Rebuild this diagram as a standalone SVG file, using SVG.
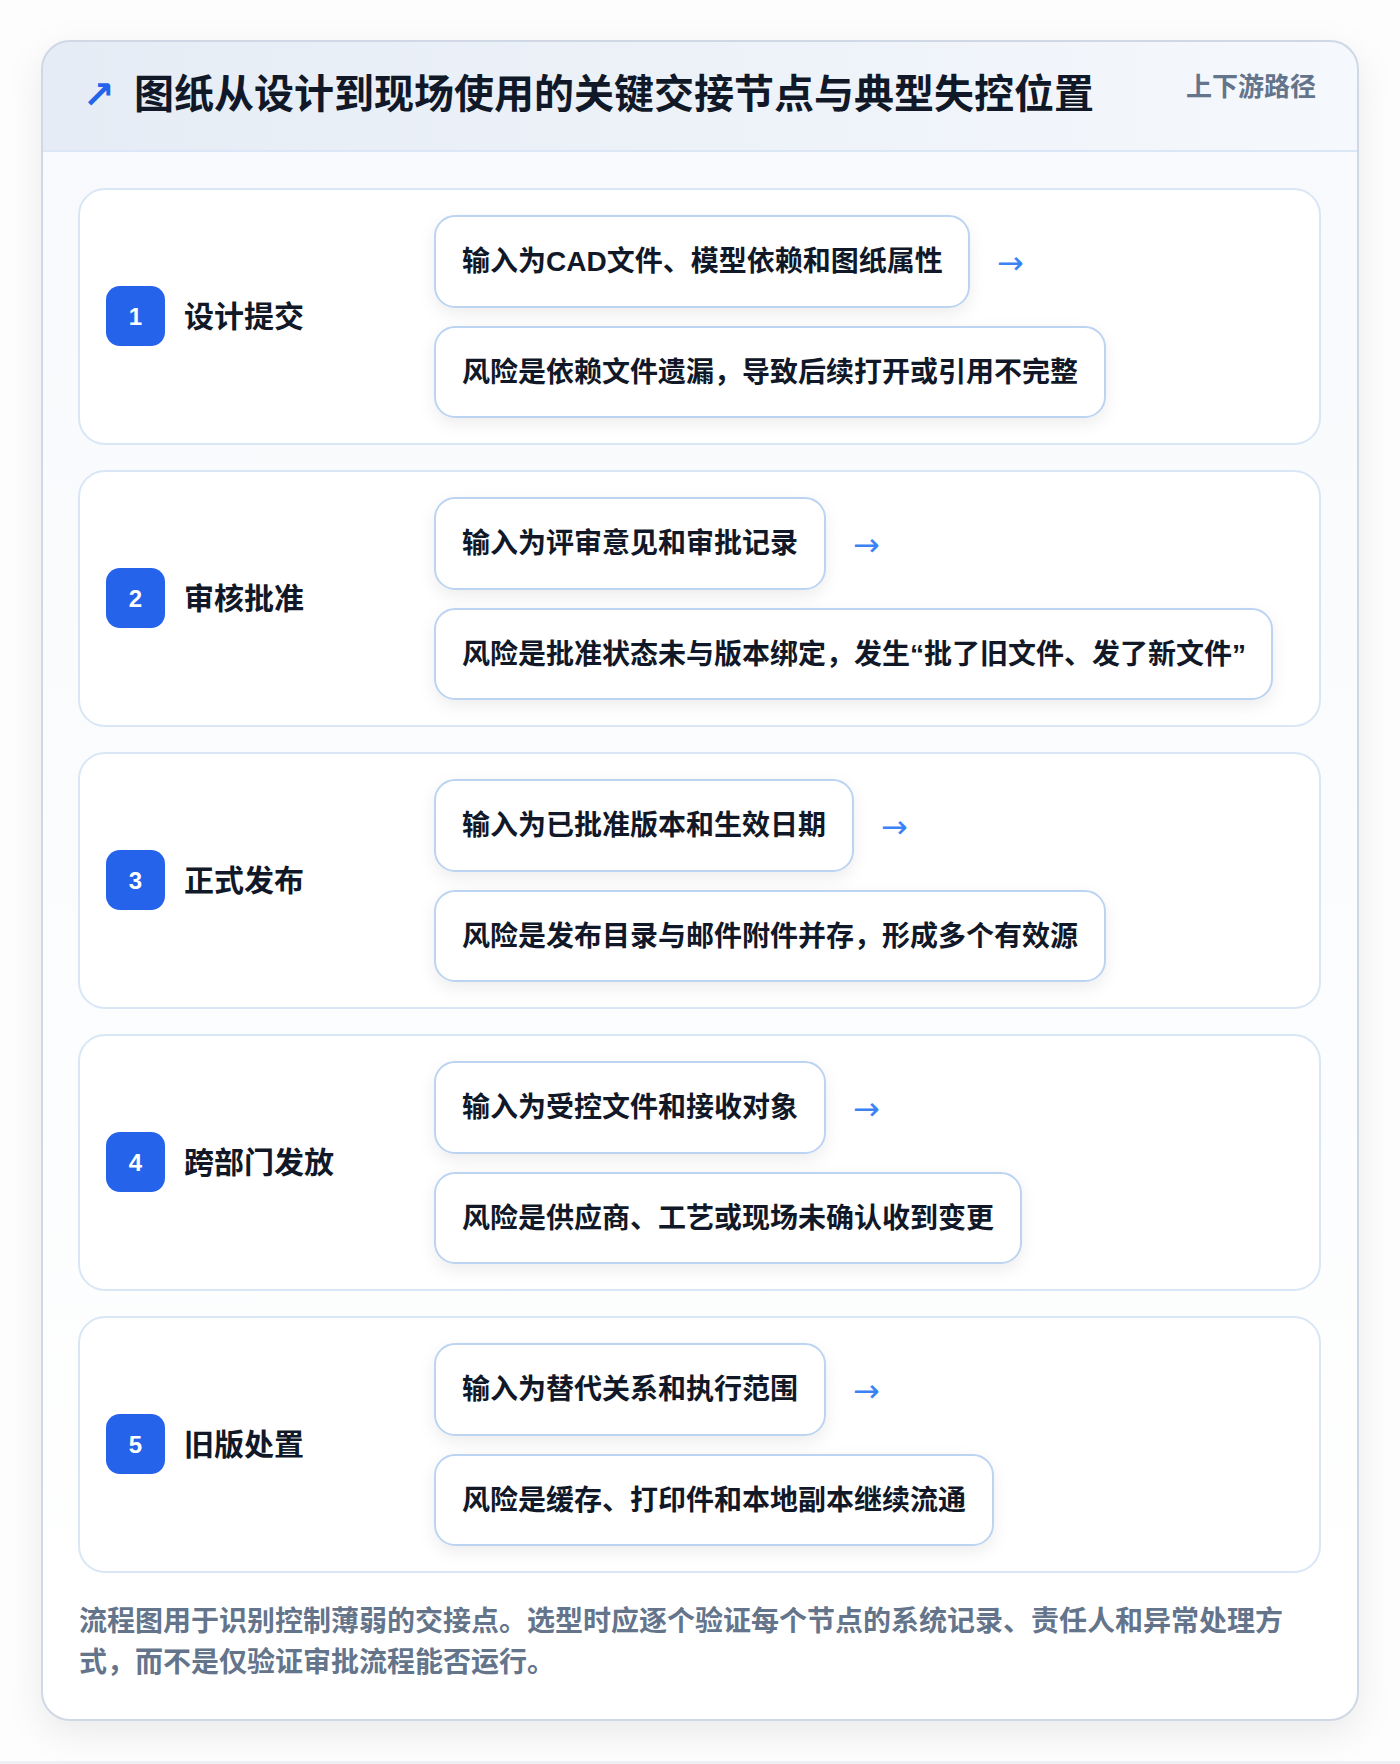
<svg xmlns="http://www.w3.org/2000/svg" width="1400" height="1764" viewBox="0 0 1400 1764">
<defs>
<style>
.t{font-family:"Liberation Sans","Noto Sans CJK SC",sans-serif;}
.box{fill:#ffffff;stroke:#bcd4f2;stroke-width:2;}
.panel{fill:#ffffff;stroke:#d9e6f6;stroke-width:2;}
.bt{font-size:28px;font-weight:700;fill:#111827;}
.lbl{font-size:30px;font-weight:700;fill:#111827;}
.num{font-size:24px;font-weight:700;fill:#ffffff;text-anchor:middle;}
.badge{fill:#2563eb;}
.arr{font-family:"DejaVu Sans",sans-serif;font-size:32px;fill:#3b82f6;}
</style>
<linearGradient id="hdr" x1="0" y1="0" x2="1" y2="0">
<stop offset="0" stop-color="#e5ecf5"/>
<stop offset="1" stop-color="#f5f8fc"/>
</linearGradient>
<linearGradient id="body" x1="0" y1="0" x2="0" y2="1">
<stop offset="0" stop-color="#f7f9fc"/>
<stop offset="1" stop-color="#ffffff"/>
</linearGradient>
<filter id="cardSh" x="-10%" y="-10%" width="120%" height="120%">
<feDropShadow dx="0" dy="12" stdDeviation="18" flood-color="#0f172a" flood-opacity="0.08"/>
</filter>
<filter id="boxSh" x="-10%" y="-30%" width="120%" height="170%">
<feDropShadow dx="0" dy="6" stdDeviation="8" flood-color="#0f172a" flood-opacity="0.07"/>
</filter>
<clipPath id="cardClip"><rect x="42" y="41" width="1316" height="1679" rx="28"/></clipPath>
</defs>
<rect x="0" y="0" width="1400" height="1764" fill="#fdfdfe"/>
<rect x="0" y="1761" width="1400" height="3" fill="#eef0f3"/>
<g id="card">
<rect x="42" y="41" width="1316" height="1679" rx="28" fill="url(#body)" filter="url(#cardSh)"/>
<g clip-path="url(#cardClip)">
<rect x="42" y="41" width="1316" height="110" fill="url(#hdr)"/>
<rect x="42" y="150" width="1316" height="2" fill="#dbe7f6"/>
</g>
<rect x="42" y="41" width="1316" height="1679" rx="28" fill="none" stroke="#cfd8e4" stroke-width="2"/>
</g>
<g id="header">
<text x="83" y="108" style="font-family:'DejaVu Sans',sans-serif;font-size:38px;font-weight:700;fill:#2563eb;">↗</text>
<text class="t" x="134" y="108" style="font-size:40px;font-weight:700;fill:#111827;">图纸从设计到现场使用的关键交接节点与典型失控位置</text>
<text class="t" x="1316" y="96" text-anchor="end" style="font-size:26px;font-weight:600;fill:#64748b;">上下游路径</text>
</g>
<g id="step1">
<rect class="panel" x="79" y="189" width="1241" height="255" rx="26"/>
<rect class="badge" x="106" y="286" width="59" height="60" rx="14"/>
<text class="t num" x="135.5" y="325">1</text>
<text class="t lbl" x="184" y="327">设计提交</text>
<rect class="box" x="435" y="216" width="534" height="91" rx="20" filter="url(#boxSh)"/>
<text class="t bt" x="462" y="271">输入为CAD文件、模型依赖和图纸属性</text>
<rect class="box" x="435" y="327" width="670" height="90" rx="20" filter="url(#boxSh)"/>
<text class="t bt" x="462" y="382">风险是依赖文件遗漏，导致后续打开或引用不完整</text>
</g>
<g id="step2">
<rect class="panel" x="79" y="471" width="1241" height="255" rx="26"/>
<rect class="badge" x="106" y="568" width="59" height="60" rx="14"/>
<text class="t num" x="135.5" y="607">2</text>
<text class="t lbl" x="184" y="609">审核批准</text>
<rect class="box" x="435" y="498" width="390" height="91" rx="20" filter="url(#boxSh)"/>
<text class="t bt" x="462" y="553">输入为评审意见和审批记录</text>
<rect class="box" x="435" y="609" width="837" height="90" rx="20" filter="url(#boxSh)"/>
<text class="t bt" x="462" y="664">风险是批准状态未与版本绑定，发生“批了旧文件、发了新文件”</text>
</g>
<g id="step3">
<rect class="panel" x="79" y="753" width="1241" height="255" rx="26"/>
<rect class="badge" x="106" y="850" width="59" height="60" rx="14"/>
<text class="t num" x="135.5" y="889">3</text>
<text class="t lbl" x="184" y="891">正式发布</text>
<rect class="box" x="435" y="780" width="418" height="91" rx="20" filter="url(#boxSh)"/>
<text class="t bt" x="462" y="835">输入为已批准版本和生效日期</text>
<rect class="box" x="435" y="891" width="670" height="90" rx="20" filter="url(#boxSh)"/>
<text class="t bt" x="462" y="946">风险是发布目录与邮件附件并存，形成多个有效源</text>
</g>
<g id="step4">
<rect class="panel" x="79" y="1035" width="1241" height="255" rx="26"/>
<rect class="badge" x="106" y="1132" width="59" height="60" rx="14"/>
<text class="t num" x="135.5" y="1171">4</text>
<text class="t lbl" x="184" y="1173">跨部门发放</text>
<rect class="box" x="435" y="1062" width="390" height="91" rx="20" filter="url(#boxSh)"/>
<text class="t bt" x="462" y="1117">输入为受控文件和接收对象</text>
<rect class="box" x="435" y="1173" width="586" height="90" rx="20" filter="url(#boxSh)"/>
<text class="t bt" x="462" y="1228">风险是供应商、工艺或现场未确认收到变更</text>
</g>
<g id="step5">
<rect class="panel" x="79" y="1317" width="1241" height="255" rx="26"/>
<rect class="badge" x="106" y="1414" width="59" height="60" rx="14"/>
<text class="t num" x="135.5" y="1453">5</text>
<text class="t lbl" x="184" y="1455">旧版处置</text>
<rect class="box" x="435" y="1344" width="390" height="91" rx="20" filter="url(#boxSh)"/>
<text class="t bt" x="462" y="1399">输入为替代关系和执行范围</text>
<rect class="box" x="435" y="1455" width="558" height="90" rx="20" filter="url(#boxSh)"/>
<text class="t bt" x="462" y="1510">风险是缓存、打印件和本地副本继续流通</text>
</g>
<g id="connectors">
<text class="arr" x="997" y="274">→</text>
<text class="arr" x="853" y="556">→</text>
<text class="arr" x="881" y="838">→</text>
<text class="arr" x="853" y="1120">→</text>
<text class="arr" x="853" y="1402">→</text>
</g>
<g id="footer">
<text class="t" style="font-size:28px;font-weight:600;fill:#64748b;">
<tspan x="79" y="1631">流程图用于识别控制薄弱的交接点。选型时应逐个验证每个节点的系统记录、责任人和异常处理方</tspan>
<tspan x="79" y="1672">式，而不是仅验证审批流程能否运行。</tspan>
</text>
</g>
</svg>
